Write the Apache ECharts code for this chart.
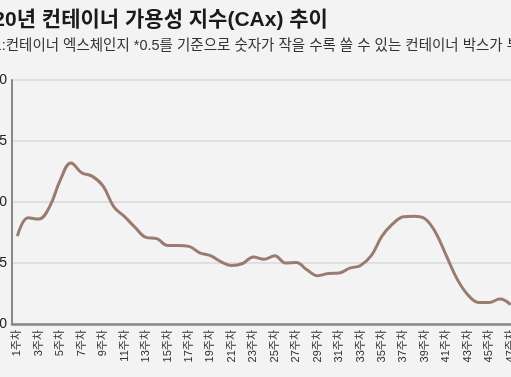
<!DOCTYPE html>
<html>
<head>
<meta charset="utf-8">
<script src="https://cdn.jsdelivr.net/npm/echarts@6/dist/echarts.min.js"></script>
<style>
  html, body { margin: 0; padding: 0; background: #f3f3f3; overflow: hidden; }
  #chart { width: 560px; height: 377px; }
</style>
</head>
<body>
<div id="chart"></div>
<script>
// 2020년 주차별 CAx
const weeks = [];
for (let i = 1; i <= 47; i++) weeks.push(i + "주차");

const caxValues = [
  0.36, 0.435, 0.43, 0.48, 0.59, 0.66, 0.62, 0.605, 0.565, 0.48,
  0.44, 0.395, 0.355, 0.35, 0.322, 0.322, 0.318, 0.292, 0.28, 0.255,
  0.24, 0.248, 0.275, 0.265, 0.28, 0.25, 0.252, 0.222, 0.198, 0.207,
  0.209, 0.229, 0.24, 0.28, 0.36, 0.41, 0.44, 0.442, 0.432, 0.375,
  0.28, 0.185, 0.12, 0.088, 0.088, 0.102, 0.079,
];

const yTicks = [0, 0.25, 0.5, 0.75, 1.0];

const chart = echarts.init(document.getElementById("chart"));
const font = "'Liberation Sans', 'Noto Sans CJK KR', sans-serif";

chart.setOption({
  backgroundColor: "#f3f3f3",
  textStyle: { fontFamily: font },
  title: [
    {
      text: "2020년 컨테이너 가용성 지수(CAx) 추이",
      left: -35,
      top: 5,
      textStyle: { fontSize: 21, fontWeight: "bold", color: "#1a1a1a", fontFamily: font },
    },
    {
      text: "자료:컨테이너 엑스체인지 *0.5를 기준으로 숫자가 작을 수록 쓸 수 있는 컨테이너 박스가 부족",
      left: -30,
      top: 34,
      textStyle: { fontSize: 14.5, fontWeight: "normal", color: "#333", fontFamily: font },
    },
  ],
  grid: {
    left: 12,
    top: 80,
    right: 44,
    bottom: 53,
    containLabel: false,
    outerBoundsMode: "none",
  },
  xAxis: {
    type: "category",
    data: weeks,
    boundaryGap: true,
    axisLine: { lineStyle: { color: "#888", width: 2.5 } },
    axisTick: { show: false },
    axisLabel: {
      interval: 1,
      rotate: 90,
      margin: 6,
      fontSize: 11,
      color: "#333",
      fontFamily: font,
    },
  },
  yAxis: {
    type: "value",
    min: yTicks[0],
    max: yTicks[yTicks.length - 1],
    interval: 0.25,
    axisLine: { show: true, lineStyle: { color: "#888", width: 2 } },
    axisTick: { show: false },
    axisLabel: {
      margin: 5,
      fontSize: 14,
      color: "#222",
      fontFamily: font,
      formatter: (v) => v.toFixed(2),
    },
    splitLine: { lineStyle: { color: "#d8d8d8", width: 1.5 } },
  },
  series: [
    {
      type: "line",
      data: caxValues,
      smooth: 0.4,
      showSymbol: false,
      lineStyle: { color: "#9a7b70", width: 3 },
    },
  ],
});
</script>
</body>
</html>
